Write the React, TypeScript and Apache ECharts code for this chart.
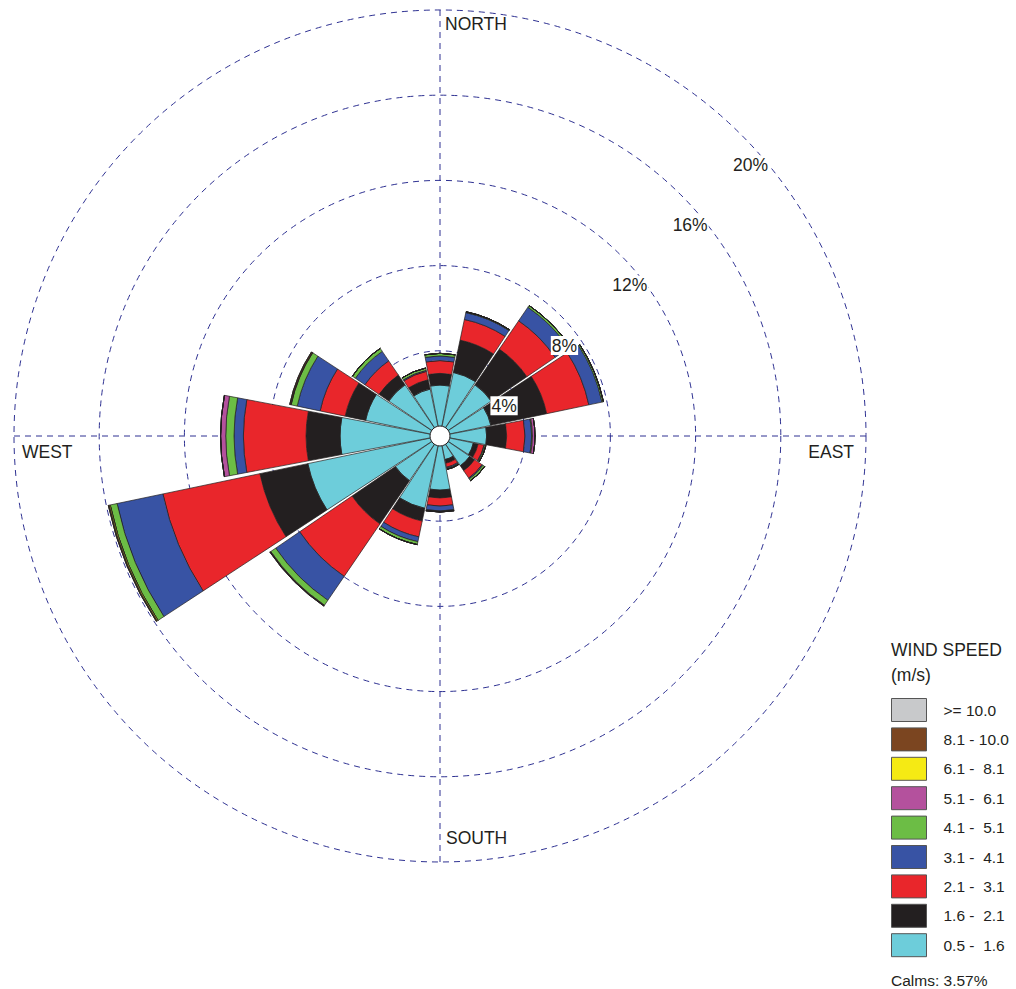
import React, { useEffect, useRef } from 'react';
import * as echarts from 'echarts';

const DIRECTIONS = ['N', 'NNE', 'NE', 'ENE', 'E', 'ESE', 'SE', 'SSE', 'S', 'SSW', 'SW', 'WSW', 'W', 'WNW', 'NW', 'NNW'];

const SPEED_CLASSES = ['0.5 -  1.6', '1.6 -  2.1', '2.1 -  3.1', '3.1 -  4.1', '4.1 -  5.1', '5.1 -  6.1', '6.1 -  8.1', '8.1 - 10.0', '>= 10.0'];
const CLASS_COLORS = ['#6dcdda', '#231f20', '#e9262b', '#3853a4', '#6cbd45', '#b4519d', '#f5ea14', '#7b4520', '#c8c9cb'];

// frequency (%) per direction, N clockwise
const S_05_16 = [2.39, 3.05, 2.91, 2.44, 2.19, 1.6, 1.69, 1.13, 2.54, 3.47, 2.54, 6.34, 4.69, 3.57, 2.91, 2.25];
const S_16_21 = [0.55, 1.55, 2.03, 2.68, 0.94, 0.23, 0.28, 0.18, 0.37, 0.61, 2.46, 2.3, 1.6, 0.98, 0.56, 0.45];
const S_21_31 = [0.6, 0.99, 1.61, 2.02, 0.86, 0.28, 0.42, 0.19, 0.38, 0.76, 2.98, 4.65, 2.94, 1.2, 0.8, 0.4];
const S_31_41 = [0.22, 0.33, 0.77, 0.63, 0.31, 0.03, 0.05, 0.05, 0.23, 0.23, 1.36, 2.2, 0.44, 1.1, 0.54, 0.05];
const S_41_51 = [0.12, 0.04, 0.1, 0.07, 0.04, 0.06, 0.1, 0.05, 0.03, 0.14, 0.28, 0.33, 0.39, 0.29, 0.17, 0.11];
const S_51_61 = [0, 0, 0, 0, 0.12, 0, 0, 0, 0.02, 0, 0.03, 0, 0.24, 0.02, 0, 0];
const S_61_81 = [0, 0, 0, 0, 0, 0, 0, 0, 0, 0, 0, 0.05, 0, 0, 0, 0];
const S_81_100 = [0, 0, 0, 0, 0, 0, 0, 0, 0, 0, 0.02, 0.04, 0, 0.05, 0, 0];
const S_GE_100 = [0, 0, 0, 0, 0, 0, 0, 0, 0, 0, 0, 0, 0, 0, 0, 0];

const CLASS_DATA = [S_05_16, S_16_21, S_21_31, S_31_41, S_41_51, S_51_61, S_61_81, S_81_100, S_GE_100];

const RING_TICKS = [4, 8, 12, 16, 20];
const RMAX = 20;
const CALMS = 3.57;
const COMPASS = ['NORTH', 'EAST', 'SOUTH', 'WEST'];

const FONT = '"Liberation Sans", Arial, sans-serif';
const CX = 440;
const CY = 436;
const R = 426;
const GRID = '#2e3192';
const INK = '#231f20';

export default function App() {
  const ref = useRef<HTMLDivElement>(null);

  useEffect(() => {
    if (!ref.current) return;
    const chart = echarts.init(ref.current, null, { renderer: 'svg' });

    const rOf = (v: number) => (v / RMAX) * R;

    const graphics: any[] = [];
    // percentage labels
    RING_TICKS.forEach((v) => {
      const r = rOf(v);
      graphics.push({
        type: 'text',
        x: CX - 10 + r * 0.709,
        y: CY + 30 - r * 0.707,
        z: 100,
        style: {
          text: v + '%',
          font: `17.5px ${FONT}`,
          fill: INK,
          backgroundColor: '#ffffff',
          padding: [1, 1, 0, 1],
          align: 'left',
          verticalAlign: 'middle',
        },
      });
    });
    // compass labels
    graphics.push(
      { type: 'text', x: CX + 5, y: CY - R + 14, z: 100, style: { text: COMPASS[0], font: `17.5px ${FONT}`, fill: INK, align: 'left', verticalAlign: 'middle' } },
      { type: 'text', x: CX + R - 12, y: CY + 16, z: 100, style: { text: COMPASS[1], font: `17.5px ${FONT}`, fill: INK, align: 'right', verticalAlign: 'middle' } },
      { type: 'text', x: CX + 6, y: CY + R - 24, z: 100, style: { text: COMPASS[2], font: `17.5px ${FONT}`, fill: INK, align: 'left', verticalAlign: 'middle' } },
      { type: 'text', x: CX - R + 8, y: CY + 16, z: 100, style: { text: COMPASS[3], font: `17.5px ${FONT}`, fill: INK, align: 'left', verticalAlign: 'middle' } },
    );
    // centre calm circle
    graphics.push({
      type: 'circle',
      z: 100,
      shape: { cx: CX, cy: CY, r: 10 },
      style: { fill: '#ffffff', stroke: INK, lineWidth: 1 },
    });
    // legend title & calms
    graphics.push(
      { type: 'text', x: 891, y: 650, style: { text: 'WIND SPEED', font: `17.5px ${FONT}`, fill: INK, verticalAlign: 'middle' } },
      { type: 'text', x: 891, y: 675, style: { text: '(m/s)', font: `17.5px ${FONT}`, fill: INK, verticalAlign: 'middle' } },
      { type: 'text', x: 891, y: 980, style: { text: 'Calms: ' + CALMS.toFixed(2) + '%', font: `15.5px ${FONT}`, fill: INK, verticalAlign: 'middle' } },
    );

    const option: any = {
      animation: false,
      backgroundColor: '#ffffff',
      textStyle: { fontFamily: FONT },
      polar: [
        { center: [CX, CY], radius: R },
        { center: [CX, CY], radius: R },
      ],
      angleAxis: [
        {
          polarIndex: 0,
          type: 'category',
          data: DIRECTIONS,
          startAngle: 90 + 360 / 32,
          clockwise: true,
          boundaryGap: true,
          axisLine: { show: false },
          axisTick: { show: false },
          axisLabel: { show: false },
          splitLine: { show: false },
          splitArea: { show: false },
        },
        {
          polarIndex: 1,
          type: 'value',
          min: 0,
          max: 360,
          interval: 90,
          startAngle: 90,
          clockwise: true,
          axisLine: { show: false },
          axisTick: { show: false },
          axisLabel: { show: false },
          splitLine: { show: true, lineStyle: { color: GRID, width: 1, type: [6, 5] } },
          splitArea: { show: false },
        },
      ],
      radiusAxis: [
        {
          polarIndex: 0,
          type: 'value',
          min: 0,
          max: RMAX,
          interval: 4,
          axisLine: { show: false },
          axisTick: { show: false },
          axisLabel: { show: false },
          splitLine: { show: true, lineStyle: { color: GRID, width: 1, type: [6, 5] } },
          splitArea: { show: false },
        },
        {
          polarIndex: 1,
          type: 'value',
          min: 0,
          max: RMAX,
          axisLine: { show: false },
          axisTick: { show: false },
          axisLabel: { show: false },
          splitLine: { show: false },
          splitArea: { show: false },
        },
      ],
      legend: {
        orient: 'vertical',
        left: 886,
        top: 693,
        itemWidth: 35,
        itemHeight: 23,
        itemGap: 5.4,
        icon: 'rect',
        selectedMode: false,
        data: [...SPEED_CLASSES].reverse(),
        itemStyle: { borderColor: '#555555', borderWidth: 1 },
        textStyle: { fontSize: 15.5, color: INK, fontFamily: FONT, padding: [0, 0, 0, 12] },
      },
      graphic: graphics,
      series: SPEED_CLASSES.map((name, i) => ({
        type: 'bar',
        name,
        coordinateSystem: 'polar',
        polarIndex: 0,
        stack: 'wind',
        data: CLASS_DATA[i],
        barCategoryGap: '5%',
        silent: true,
        itemStyle: { color: CLASS_COLORS[i], borderColor: INK, borderWidth: 0.7 },
        emphasis: { disabled: true },
      })),
    };

    chart.setOption(option);
    return () => chart.dispose();
  }, []);

  return <div ref={ref} style={{ position: 'absolute', left: 0, top: 0, width: 1016, height: 989 }} />;
}
